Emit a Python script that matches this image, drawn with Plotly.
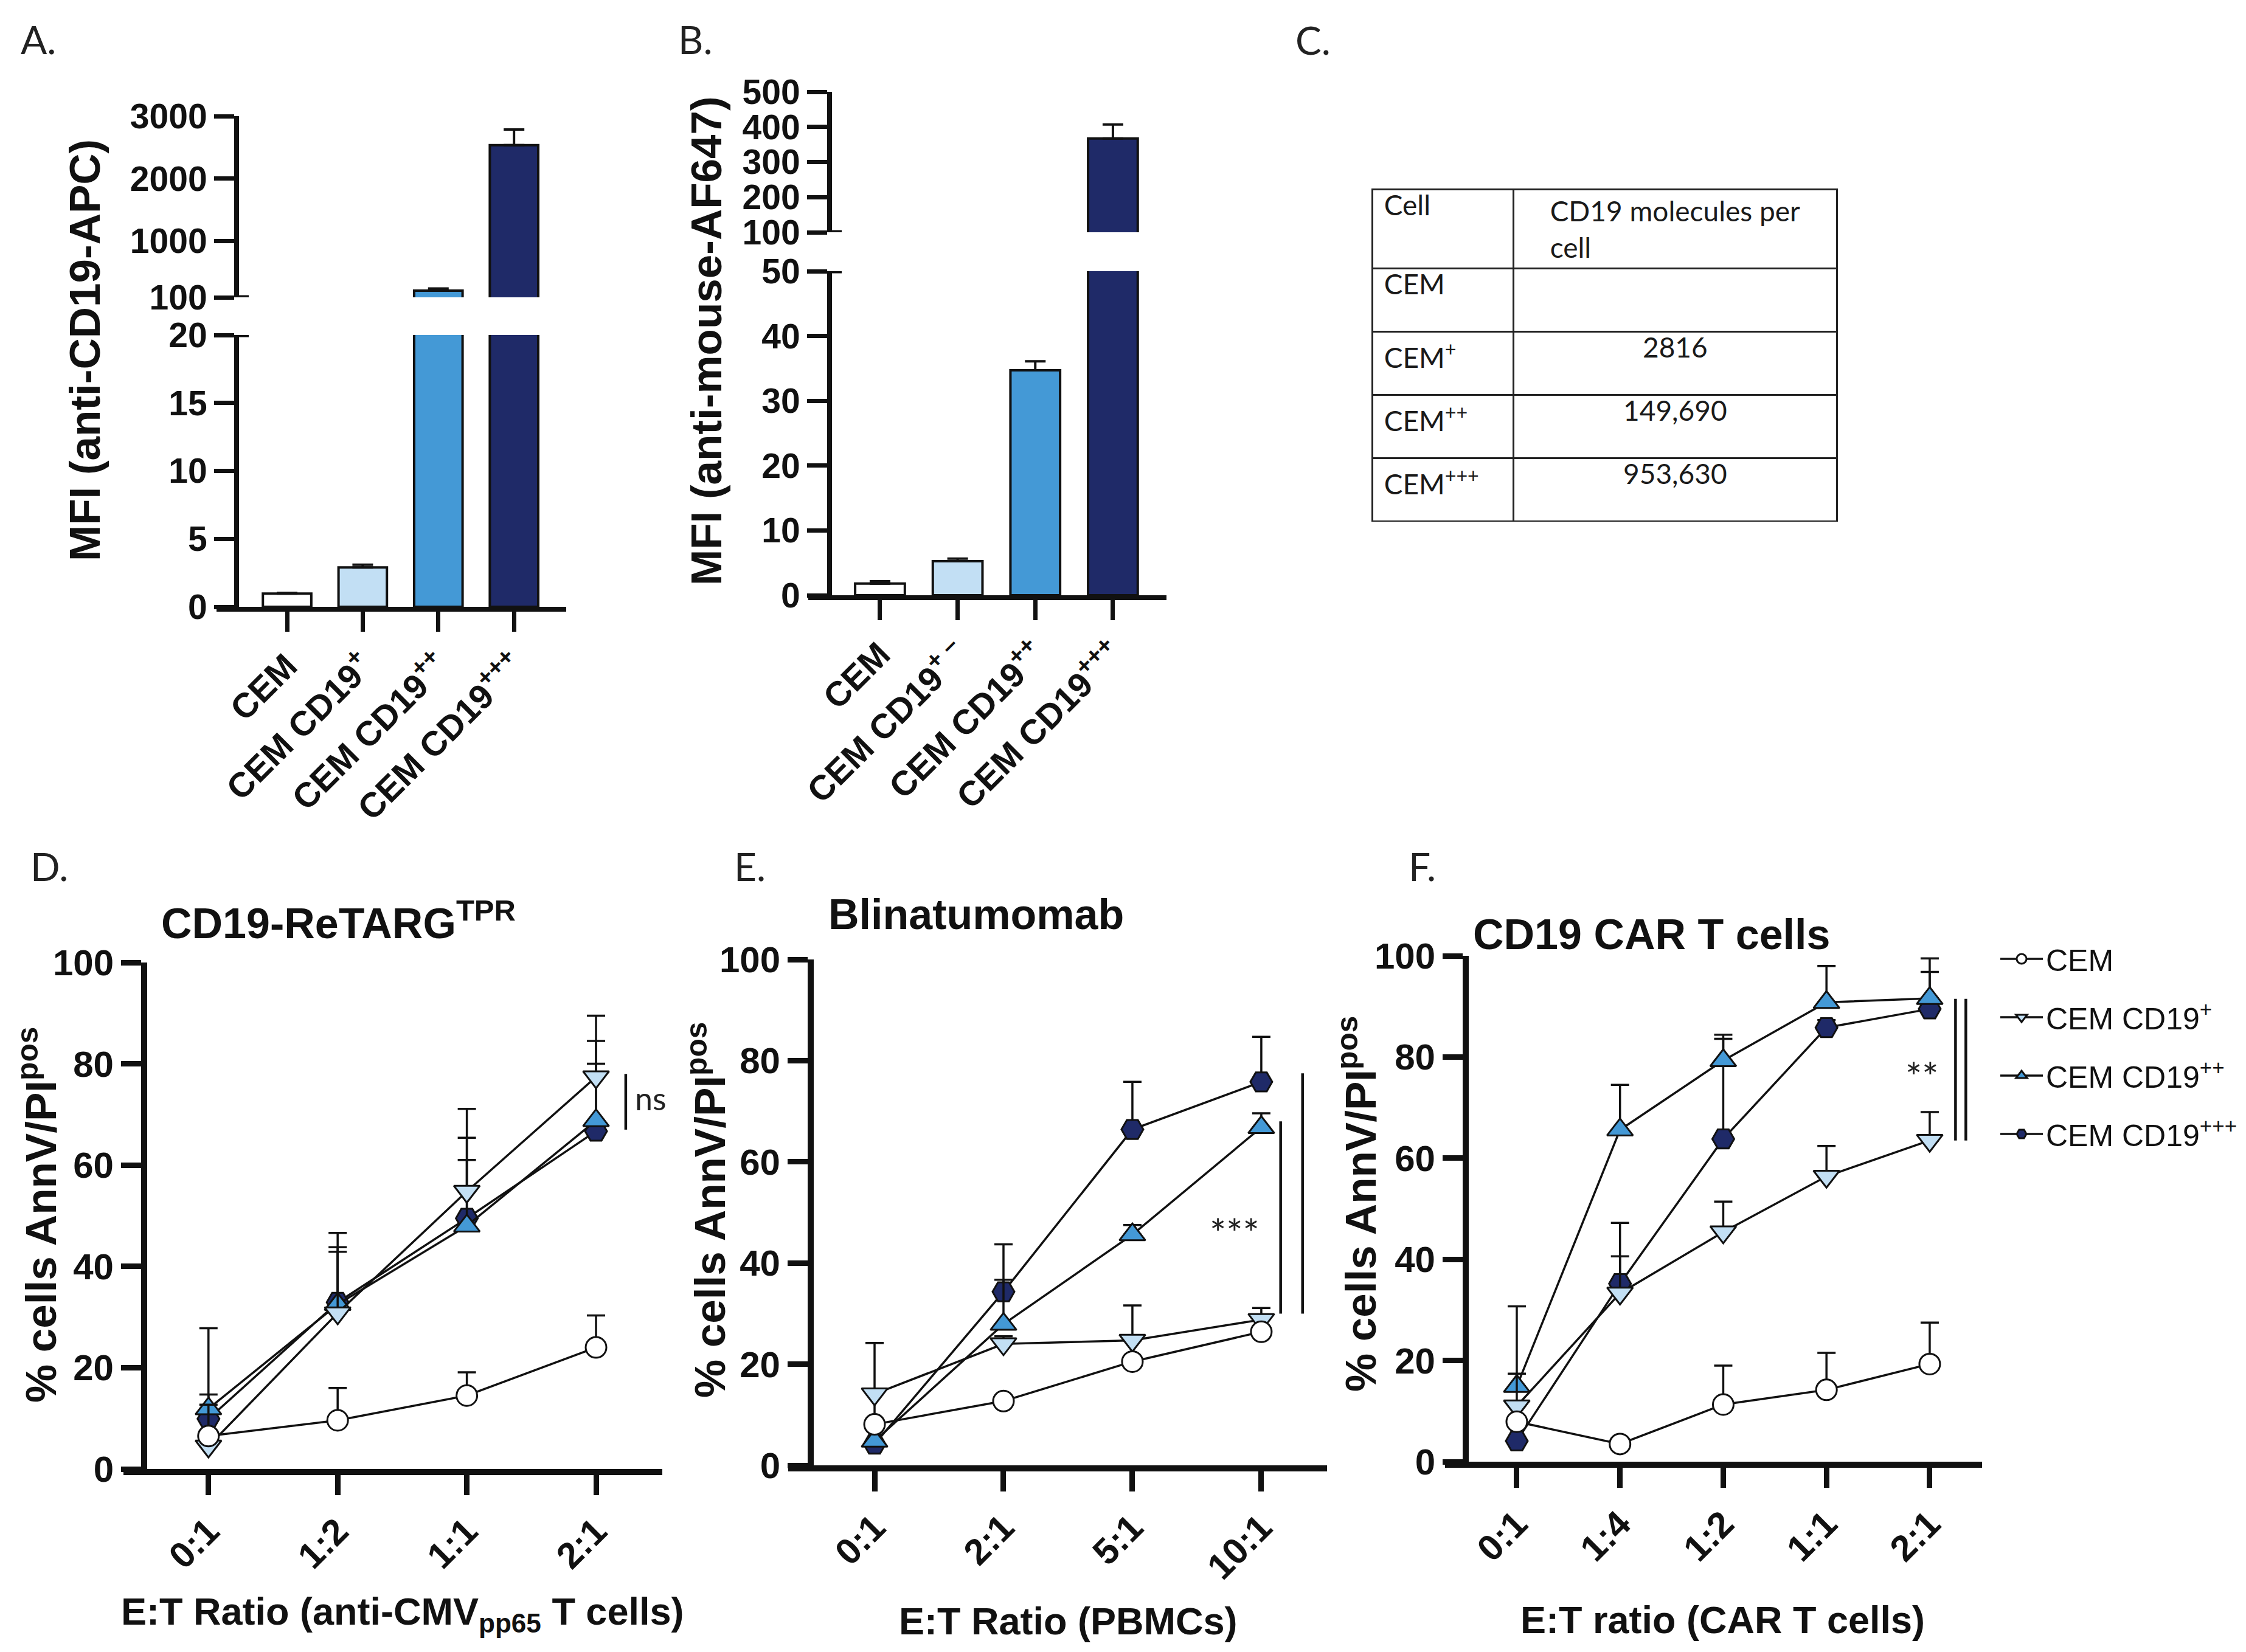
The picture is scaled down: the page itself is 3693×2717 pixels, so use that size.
import plotly.graph_objects as go

W, H = 3693, 2717

# ---------------- data ----------------
# A / B: MFI bar charts
cats_A = ["CEM", "CEM CD19<sup>+</sup>", "CEM CD19<sup>++</sup>", "CEM CD19<sup>+++</sup>"]
cats_B = ["CEM", "CEM CD19<sup>+ \u2013</sup>", "CEM CD19<sup>++</sup>", "CEM CD19<sup>+++</sup>"]
mfi_A = [0.97, 2.9, 208, 2535]
mfi_A_err = [0.05, 0.2, 33, 250]
mfi_B = [1.8, 5.25, 34.7, 367]
mfi_B_err = [0.35, 0.4, 1.4, 40]

# C: table
table_cell = ["CEM", "CEM<sup>+</sup>", "CEM<sup>++</sup>", "CEM<sup>+++</sup>"]
table_count = ["", "2816", "149,690", "953,630"]

# D: CD19-ReTARG
ratio_D = ["0:1", "1:2", "1:1", "2:1"]
D_cem = [6.5, 9.6, 14.5, 24.0]
D_cem_err = [0.5, 6.4, 4.6, 6.3]
D_p1 = [4.5, 30.8, 54.8, 77.4]
D_p1_err = [8.2, 12.1, 6.2, 12.1]
D_p2 = [11.9, 32.5, 48.0, 68.8]
D_p2_err = [15.9, 14.1, 23.1, 15.7]
D_p3 = [9.9, 32.9, 49.5, 66.7]
D_p3_err = [4.8, 10.9, 15.9, 13.3]

# E: Blinatumomab
ratio_E = ["0:1", "2:1", "5:1", "10:1"]
E_cem = [8.1, 12.7, 20.5, 26.4]
E_cem_err = [0.8, 0.8, 0.8, 0.8]
E_p1 = [14.1, 24.0, 24.7, 28.8]
E_p1_err = [10.1, 1.5, 6.9, 2.3]
E_p2 = [4.8, 27.9, 45.6, 66.8]
E_p2_err = [9.3, 8.8, 1.9, 2.8]
E_p3 = [4.2, 34.3, 66.4, 75.8]
E_p3_err = [0.5, 9.4, 9.4, 8.9]

# F: CD19 CAR T cells
ratio_F = ["0:1", "1:4", "1:2", "1:1", "2:1"]
F_cem = [7.9, 3.5, 11.3, 14.2, 19.3]
F_cem_err = [0.5, 0.5, 7.7, 7.3, 8.2]
F_p1 = [11.0, 33.3, 45.4, 56.4, 63.5]
F_p1_err = [6.4, 7.3, 6.0, 6.0, 5.6]
F_p2 = [14.9, 65.6, 79.3, 90.8, 91.6]
F_p2_err = [15.8, 8.9, 5.1, 7.2, 7.9]
F_p3 = [4.1, 35.2, 63.8, 85.8, 89.5]
F_p3_err = [0.5, 12.0, 19.8, 1.5, 7.3]

series_names = ["CEM", "CEM CD19<sup>+</sup>", "CEM CD19<sup>++</sup>", "CEM CD19<sup>+++</sup>"]

# significance brackets: (x in category units, y0, y1)
sig_D = [(3.23, 67, 78)]
sig_E = [(3.15, 30, 68), (3.32, 30, 77.5)]
sig_F = [(4.25, 63.5, 91.5), (4.35, 63.5, 91.5)]

# ---------------- style ----------------
LIGHT, MID, NAVY = "#c2dff4", "#4499d6", "#1f2a68"
bar_colors = ["#ffffff", LIGHT, MID, NAVY]
symbols = ["circle", "triangle-down", "triangle-up", "hexagon2"]
sizes = [34, 37, 37, 36]
fills = ["#ffffff", LIGHT, MID, NAVY]

INK = "#111111"
ARIAL = "Liberation Sans, Arial, sans-serif"
CALIBRI = "Lato, Open Sans, sans-serif"
TICK_TOP = dict(family=ARIAL, size=57, color=INK, weight="bold")
TICK_BOT = dict(family=ARIAL, size=60, color=INK, weight="bold")
YTITLE_FONT = dict(family=ARIAL, size=71, color=INK, weight="bold")
TITLE_FONT = dict(family=ARIAL, size=70, color=INK, weight="bold")
XTITLE_FONT = dict(family=ARIAL, size=63, color=INK, weight="bold")


def xd(p):
    return p / W


def yd(p):
    return 1 - p / H


def base_axis(lw, font):
    return dict(showline=True, linewidth=lw, linecolor=INK, ticks="outside", ticklen=33,
                tickwidth=lw - 1, tickcolor=INK, showgrid=False, zeroline=False,
                tickfont=font, automargin=False)


def xaxis(x0, x1, rng, anchor, lw, font):
    return dict(base_axis(lw, font), domain=[xd(x0), xd(x1)], range=rng, type="category",
                anchor=anchor, tickangle=-45)


def yaxis(bottom, top, rng, pos, tickvals, lw, font):
    return dict(base_axis(lw, font), domain=[yd(bottom), yd(top)], range=rng, anchor="free",
                position=xd(pos), tickvals=tickvals)


fig = go.Figure()

# ---- A and B: broken-axis bars ----
for cats, vals, errs, xa, ylo, yhi in [
    (cats_A, mfi_A, mfi_A_err, "x", "y", "y2"),
    (cats_B, mfi_B, mfi_B_err, "x2", "y3", "y4"),
]:
    for ya in (ylo, yhi):
        fig.add_trace(go.Bar(
            x=cats, y=vals, xaxis=xa, yaxis=ya, width=0.64,
            marker=dict(color=bar_colors, line=dict(color=INK, width=4)),
            error_y=dict(type="data", array=errs, symmetric=False, color=INK,
                         thickness=4, width=17),
            showlegend=False, hoverinfo="skip"))

# ---- D, E, F: killing curves ----
panels = [
    ("x3", "y5", ratio_D, [D_cem, D_p1, D_p2, D_p3], [D_cem_err, D_p1_err, D_p2_err, D_p3_err], False),
    ("x4", "y6", ratio_E, [E_cem, E_p1, E_p2, E_p3], [E_cem_err, E_p1_err, E_p2_err, E_p3_err], False),
    ("x5", "y7", ratio_F, [F_cem, F_p1, F_p2, F_p3], [F_cem_err, F_p1_err, F_p2_err, F_p3_err], True),
]
for xa, ya, cats, vals, errs, legend in panels:
    # draw the strongest line first so CEM ends up on top
    for k in [3, 2, 1, 0]:
        fig.add_trace(go.Scatter(
            x=cats, y=vals[k], xaxis=xa, yaxis=ya, mode="lines+markers",
            name=series_names[k],
            line=dict(color=INK, width=3.5),
            marker=dict(symbol=symbols[k], size=sizes[k], color=fills[k],
                        line=dict(color=INK, width=3)),
            error_y=dict(type="data", array=errs[k], symmetric=False, color=INK,
                         thickness=3.5, width=15),
            cliponaxis=False, showlegend=legend, legendgroup="g%d" % k,
            legendrank=k + 1, hoverinfo="skip"))

# ---- C: table ----
pad = "\u00a0"
fig.add_trace(go.Table(
    domain=dict(x=[xd(2248), xd(3013)], y=[yd(851), yd(303)]),
    columnwidth=[233, 532],
    header=dict(values=[pad + "Cell", "CD19 molecules per<br>cell"], align=["left", "center"],
                height=128, line=dict(color="#222222", width=3), fill=dict(color="white"),
                font=dict(family=CALIBRI, size=46, color="#1a1a1a")),
    cells=dict(values=[[pad + c for c in table_cell], table_count], align=["left", "center"],
               height=104, line=dict(color="#222222", width=3), fill=dict(color="white"),
               font=dict(family=CALIBRI, size=46, color="#1a1a1a")),
))

# ---- shapes: axis breaks and significance bars ----
shapes = []
for pos, ya, yv in [(381, "y2", 100), (381, "y", 20), (1356, "y4", 100), (1356, "y3", 50)]:
    shapes.append(dict(type="line", xref="paper", yref=ya, x0=xd(pos), x1=xd(pos + 20),
                       y0=yv, y1=yv, line=dict(color=INK, width=7)))
for xa, ya, sigs in [("x3", "y5", sig_D), ("x4", "y6", sig_E), ("x5", "y7", sig_F)]:
    for sx, s0, s1 in sigs:
        shapes.append(dict(type="line", xref=xa, yref=ya, x0=sx, x1=sx, y0=s0, y1=s1,
                           line=dict(color=INK, width=4.5)))

# ---- text ----
ann = []


def text(t, x, y, font, xanchor="center", yanchor="middle", angle=0):
    ann.append(dict(text=t, x=xd(x), y=yd(y), xref="paper", yref="paper", showarrow=False,
                    xanchor=xanchor, yanchor=yanchor, textangle=angle, font=font))


LETTER_FONT = dict(family=CALIBRI, size=64, color="#222222")
for letter, lx, ly in [("A.", 24, 57), ("B.", 1105, 57), ("C.", 2120, 58),
                       ("D.", 40, 1417), ("E.", 1197, 1417), ("F.", 2306, 1417)]:
    text(letter, lx, ly, LETTER_FONT, xanchor="left")

text("MFI (anti-CD19-APC)", 131, 568, YTITLE_FONT, angle=-90)
text("MFI (anti-mouse-AF647)", 1153, 553, YTITLE_FONT, angle=-90)
for tx, ty in [(54, 1990), (1154, 1982), (2224, 1972)]:
    text("% cells AnnV/PI<sup>pos</sup>", tx, ty, YTITLE_FONT, angle=-90)

text("CD19-ReTARG<sup>TPR</sup>", 255, 1506, TITLE_FONT, xanchor="left")
text("Blinatumomab", 1352, 1496, TITLE_FONT, xanchor="left")
text("CD19 CAR T cells", 2412, 1529, TITLE_FONT, xanchor="left")

text("E:T Ratio (anti-CMV<sub>pp65</sub> T cells)", 653, 2646, XTITLE_FONT)
text("E:T Ratio (PBMCs)", 1748, 2658, XTITLE_FONT)
text("E:T ratio (CAR T cells)", 2824, 2656, XTITLE_FONT)

text("ns", 1034, 1798, dict(family=CALIBRI, size=52, color="#222222"), xanchor="left")
STAR_FONT = dict(family=CALIBRI, size=64, color="#222222")
text("***", 2022, 2020, STAR_FONT)
text("**", 3152, 1762, STAR_FONT)

fig.update_layout(
    template="none",
    width=W, height=H,
    margin=dict(l=0, r=0, t=0, b=0),
    paper_bgcolor="white", plot_bgcolor="white",
    barmode="overlay",
    xaxis=xaxis(348, 923, [-0.933, 3.69], "y", 8, TICK_TOP),
    yaxis=yaxis(990, 543, [0, 20], 381, [0, 5, 10, 15, 20], 8, TICK_TOP),
    yaxis2=yaxis(481, 183, [100, 3000], 381, [100, 1000, 2000, 3000], 8, TICK_TOP),
    xaxis2=xaxis(1321, 1910, [-0.924, 3.69], "y3", 8, TICK_TOP),
    yaxis3=yaxis(971, 438, [0, 50], 1356, [0, 10, 20, 30, 40, 50], 8, TICK_TOP),
    yaxis4=yaxis(374, 143, [100, 500], 1356, [100, 200, 300, 400, 500], 8, TICK_TOP),
    xaxis3=xaxis(195, 1081, [-0.658, 3.513], "y5", 10, TICK_BOT),
    yaxis5=yaxis(2408, 1575, [0, 100], 229, [0, 20, 40, 60, 80, 100], 10, TICK_BOT),
    xaxis4=xaxis(1288, 2174, [-0.67, 3.51], "y6", 10, TICK_BOT),
    yaxis6=yaxis(2402, 1570, [0, 100], 1325, [0, 20, 40, 60, 80, 100], 10, TICK_BOT),
    xaxis5=xaxis(2368, 3251, [-0.695, 4.507], "y7", 10, TICK_BOT),
    yaxis7=yaxis(2396, 1564, [0, 100], 2402, [0, 20, 40, 60, 80, 100], 10, TICK_BOT),
    legend=dict(x=xd(3276), y=yd(1530), xanchor="left", yanchor="top",
                font=dict(family=ARIAL, size=50, color=INK),
                itemwidth=70, tracegroupgap=28, bgcolor="rgba(0,0,0,0)"),
    shapes=shapes,
    annotations=ann,
)

fig.write_html("out.html")
